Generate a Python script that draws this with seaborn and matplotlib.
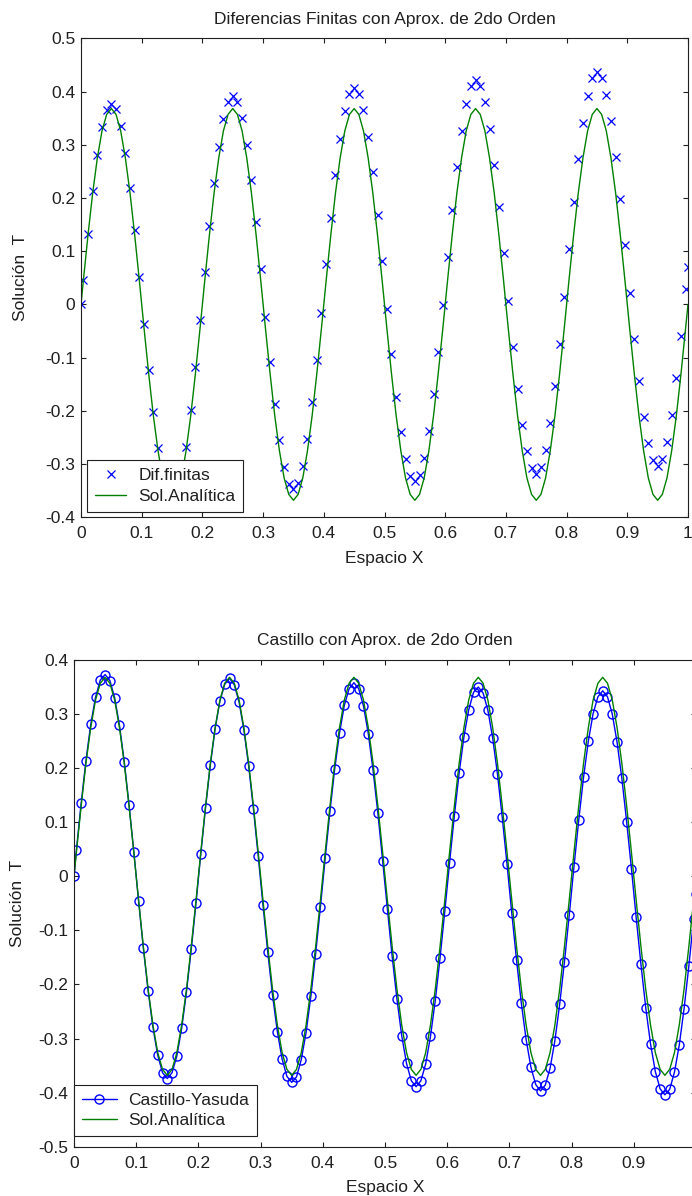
import numpy as np
import pandas as pd
import matplotlib
matplotlib.use("Agg")
import matplotlib.pyplot as plt
from matplotlib.ticker import FuncFormatter, MultipleLocator
import seaborn as sns

# ---------------- data ----------------
x_base = [0.0038, 0.0115, 0.0192, 0.0269, 0.0346, 0.0423, 0.0500, 0.0577, 0.0654,
          0.0731, 0.0808, 0.0885, 0.0962, 0.1038, 0.1115, 0.1192, 0.1269, 0.1346,
          0.1423, 0.1500, 0.1577, 0.1654, 0.1731, 0.1808, 0.1885, 0.1962]
x_nodes = ([0.0] + x_base + [v + 0.2 for v in x_base] + [v + 0.4 for v in x_base]
           + [v + 0.6 for v in x_base] + [v + 0.8 for v in x_base] + [1.0])

sol_analitica = [0.0,
    0.044, 0.130, 0.209, 0.275, 0.326, 0.357, 0.368, 0.357, 0.326, 0.275, 0.209, 0.130, 0.044,
    -0.044, -0.130, -0.209, -0.275, -0.326, -0.357, -0.368, -0.357, -0.326, -0.275, -0.209, -0.130, -0.044,
    0.044, 0.130, 0.209, 0.275, 0.326, 0.357, 0.368, 0.357, 0.326, 0.275, 0.209, 0.130, 0.044,
    -0.044, -0.130, -0.209, -0.275, -0.326, -0.357, -0.368, -0.357, -0.326, -0.275, -0.209, -0.130, -0.044,
    0.044, 0.130, 0.209, 0.275, 0.326, 0.357, 0.368, 0.357, 0.326, 0.275, 0.209, 0.130, 0.044,
    -0.044, -0.130, -0.209, -0.275, -0.326, -0.357, -0.368, -0.357, -0.326, -0.275, -0.209, -0.130, -0.044,
    0.044, 0.130, 0.209, 0.275, 0.326, 0.357, 0.368, 0.357, 0.326, 0.275, 0.209, 0.130, 0.044,
    -0.044, -0.130, -0.209, -0.275, -0.326, -0.357, -0.368, -0.357, -0.326, -0.275, -0.209, -0.130, -0.044,
    0.044, 0.130, 0.209, 0.275, 0.326, 0.357, 0.368, 0.357, 0.326, 0.275, 0.209, 0.130, 0.044,
    -0.044, -0.130, -0.209, -0.275, -0.326, -0.357, -0.368, -0.357, -0.326, -0.275, -0.209, -0.130, -0.044,
    0.0]

dif_finitas = [0.0,
    0.045, 0.133, 0.213, 0.281, 0.333, 0.365, 0.377, 0.367, 0.335, 0.285, 0.218, 0.139, 0.052,
    -0.037, -0.124, -0.203, -0.270, -0.320, -0.352, -0.362, -0.351, -0.318, -0.267, -0.199, -0.118, -0.030,
    0.060, 0.148, 0.228, 0.296, 0.348, 0.380, 0.392, 0.381, 0.350, 0.300, 0.233, 0.154, 0.067,
    -0.023, -0.109, -0.188, -0.255, -0.306, -0.337, -0.347, -0.336, -0.303, -0.252, -0.184, -0.104, -0.016,
    0.075, 0.163, 0.243, 0.311, 0.363, 0.395, 0.407, 0.396, 0.365, 0.314, 0.248, 0.168, 0.082,
    -0.008, -0.094, -0.174, -0.240, -0.291, -0.322, -0.332, -0.321, -0.289, -0.237, -0.169, -0.089, -0.001,
    0.090, 0.178, 0.258, 0.326, 0.377, 0.410, 0.421, 0.411, 0.380, 0.329, 0.262, 0.183, 0.097,
    0.007, -0.080, -0.159, -0.226, -0.276, -0.307, -0.318, -0.306, -0.274, -0.222, -0.154, -0.074, 0.014,
    0.104, 0.192, 0.273, 0.341, 0.392, 0.425, 0.436, 0.426, 0.394, 0.344, 0.277, 0.198, 0.111,
    0.022, -0.065, -0.144, -0.211, -0.261, -0.293, -0.303, -0.291, -0.259, -0.207, -0.139, -0.059, 0.029,
    0.071]

castillo_yasuda = [0.0,
    0.048, 0.135, 0.214, 0.281, 0.331, 0.363, 0.373, 0.362, 0.330, 0.279, 0.212, 0.132, 0.045,
    -0.045, -0.133, -0.212, -0.279, -0.331, -0.363, -0.374, -0.363, -0.332, -0.281, -0.214, -0.135, -0.049,
    0.041, 0.127, 0.206, 0.273, 0.324, 0.355, 0.366, 0.354, 0.322, 0.271, 0.204, 0.124, 0.037,
    -0.053, -0.140, -0.220, -0.287, -0.338, -0.370, -0.381, -0.371, -0.339, -0.289, -0.222, -0.143, -0.056,
    0.033, 0.120, 0.199, 0.265, 0.316, 0.347, 0.358, 0.347, 0.315, 0.264, 0.196, 0.117, 0.029,
    -0.060, -0.148, -0.227, -0.295, -0.346, -0.378, -0.389, -0.378, -0.347, -0.296, -0.230, -0.151, -0.064,
    0.025, 0.112, 0.191, 0.258, 0.308, 0.340, 0.350, 0.339, 0.307, 0.256, 0.189, 0.109, 0.022,
    -0.068, -0.155, -0.235, -0.302, -0.353, -0.385, -0.397, -0.386, -0.355, -0.304, -0.237, -0.158, -0.072,
    0.018, 0.104, 0.183, 0.250, 0.301, 0.332, 0.343, 0.332, 0.300, 0.248, 0.181, 0.101, 0.014,
    -0.076, -0.163, -0.243, -0.310, -0.361, -0.393, -0.404, -0.394, -0.362, -0.312, -0.245, -0.166, -0.079,
    -0.033]

x_ticks = [0, 0.1, 0.2, 0.3, 0.4, 0.5, 0.6, 0.7, 0.8, 0.9, 1.0]
titles = ["Diferencias Finitas con Aprox. de 2do Orden", "Castillo con Aprox. de 2do Orden"]
xlabel = "Espacio X"
ylabel = "Solución  T"

df = pd.DataFrame({"x": x_nodes, "analitica": sol_analitica,
                   "dif": dif_finitas, "cast": castillo_yasuda})

# ---------------- style ----------------
sns.set_style("ticks")
plt.rcParams["font.family"] = ["Liberation Sans", "DejaVu Sans"]
plt.rcParams["axes.unicode_minus"] = False
FS = 12.5
plt.rcParams.update({
    "font.size": FS,
    "xtick.direction": "in", "ytick.direction": "in",
    "xtick.top": True, "ytick.right": True,
    "xtick.major.size": 3.8, "ytick.major.size": 3.8,
    "xtick.major.width": 0.8, "ytick.major.width": 0.8,
    "axes.linewidth": 0.8,
    "axes.edgecolor": "#202020",
    "xtick.color": "#202020", "ytick.color": "#202020",
    "text.color": "#202020", "axes.labelcolor": "#202020",
})

BLUE = "#0000ff"
GREEN = "#008000"

fig = plt.figure(figsize=(6.92, 11.96), dpi=100)
W, H = 692.0, 1196.0
ax1 = fig.add_axes([81 / W, 1 - 517.3 / H, 607 / W, 479 / H])
ax2 = fig.add_axes([74 / W, 1 - 1146.7 / H, 622 / W, 486.7 / H])

fmt = FuncFormatter(lambda v, p: ("%g" % round(v, 3)) if abs(v) > 1e-9 else "0")

# top plot
sns.lineplot(data=df, x="x", y="dif", ax=ax1, sort=False, estimator=None,
             linestyle="none", marker="x", markersize=5.5, markeredgewidth=0.9,
             markeredgecolor=BLUE, color=BLUE, label="Dif.finitas")
sns.lineplot(data=df, x="x", y="analitica", ax=ax1, sort=False, estimator=None,
             color=GREEN, linewidth=1.0, label="Sol.Analítica")
ax1.set_xlim(0, 1)
ax1.set_ylim(-0.4, 0.5)
ax1.yaxis.set_major_locator(MultipleLocator(0.1))

# bottom plot
sns.lineplot(data=df, x="x", y="cast", ax=ax2, sort=False, estimator=None,
             marker="o", markersize=6.5, markerfacecolor="none",
             markeredgecolor=BLUE, markeredgewidth=1.0,
             color=BLUE, linewidth=1.0, label="Castillo-Yasuda")
sns.lineplot(data=df, x="x", y="analitica", ax=ax2, sort=False, estimator=None,
             color=GREEN, linewidth=1.0, label="Sol.Analítica")
ax2.set_xlim(0, 1)
ax2.set_ylim(-0.5, 0.4)
ax2.yaxis.set_major_locator(MultipleLocator(0.1))

for ax, title, ylp in zip([ax1, ax2], titles, [12.5, 10]):
    ax.set_xticks(x_ticks)
    ax.xaxis.set_major_formatter(fmt)
    ax.yaxis.set_major_formatter(fmt)
    ax.tick_params(axis="x", pad=6.5)
    ax.tick_params(axis="y", pad=4)
    ax.set_title(title, fontsize=FS, pad=10.5)
    ax.set_xlabel(xlabel, fontsize=FS, labelpad=7)
    ax.set_ylabel(ylabel, fontsize=FS, labelpad=ylp)
    for s in ax.spines.values():
        s.set_visible(True)

leg1 = ax1.legend(loc="lower left", bbox_to_anchor=(0.010, 0.012), borderaxespad=0,
                  fancybox=False, framealpha=1, edgecolor="#202020", fontsize=FS,
                  handlelength=1.8, handletextpad=0.7, borderpad=0.45, labelspacing=0.3)
leg1.get_frame().set_linewidth(0.8)
leg2 = ax2.legend(loc="lower left", bbox_to_anchor=(0.0, 0.022), borderaxespad=0,
                  fancybox=False, framealpha=1, edgecolor="#202020", fontsize=FS,
                  handlelength=2.0, handletextpad=0.65, borderpad=0.45, labelspacing=0.3)
leg2.get_frame().set_linewidth(0.8)

fig.savefig("out.png", dpi=100)
